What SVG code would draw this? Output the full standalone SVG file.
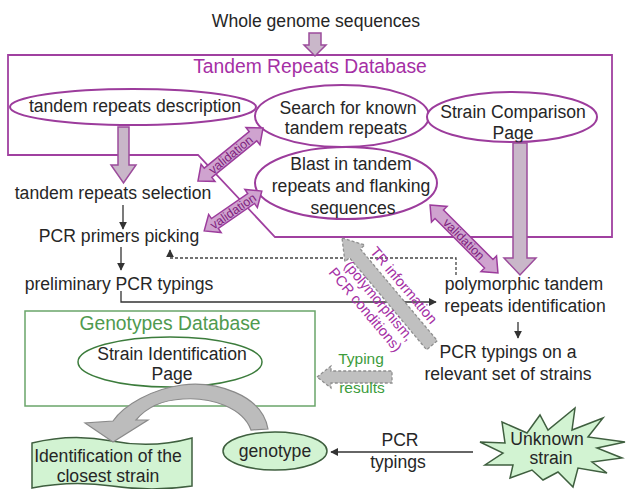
<svg xmlns="http://www.w3.org/2000/svg" width="627" height="489" viewBox="0 0 627 489">
<style>
text{font-family:"Liberation Sans",Arial,sans-serif;fill:#262626;font-size:17.6px;text-anchor:middle}
.pt{fill:#a52fa5;font-size:19.3px}
.gt{fill:#4f9a4f;font-size:19.3px}
.pe{fill:#fff;stroke:#9c3c9c;stroke-width:2}
.blk{fill:#c9b7c9;stroke:#9c4c9c;stroke-width:1.5}
.dbl{fill:#cfa3cf;stroke:#9c3c9c;stroke-width:1.5}
.vt{fill:#7e1f7e;font-size:12.5px}
.ln{fill:none;stroke:#333;stroke-width:1.3}
.dash{fill:none;stroke:#444;stroke-width:1.3;stroke-dasharray:3 2}
.gray{fill:#c0c0c0;stroke:#8f8f8f;stroke-width:1.3;stroke-dasharray:3 2}
.it{fill:#a52fa5;font-size:14.5px}
.gf{fill:#d2f3d2;stroke:#3f5f3f;stroke-width:1.5}
</style>
<defs>
<marker id="ah" viewBox="0 0 10 10" refX="9" refY="5" markerWidth="6" markerHeight="6" orient="auto"><path d="M0 0L10 5L0 10Z" fill="#333"/></marker>
</defs>

<g id="db-tandem">
<polygon points="8,55 612,55 612,237 275,237 198,155 8,155" fill="none" stroke="#a040a0" stroke-width="1.8"/>
<text class="pt" x="310" y="73">Tandem Repeats Database</text>
</g>

<g id="db-genotypes">
<rect x="25" y="311" width="290" height="95" fill="#fff" stroke="#6aa56a" stroke-width="1.5"/>
<text class="gt" x="170" y="330">Genotypes Database</text>
</g>

<g id="whole-genome"><text x="316" y="27">Whole genome sequences</text></g>

<g id="tr-description">
<ellipse class="pe" cx="133" cy="107" rx="123" ry="18"/>
<text x="135" y="112">tandem repeats description</text>
</g>

<g id="search-known">
<ellipse class="pe" cx="342" cy="116" rx="87" ry="31"/>
<text x="348" y="114">Search for known</text>
<text x="346" y="134">tandem repeats</text>
</g>

<g id="strain-comparison">
<ellipse class="pe" cx="512" cy="117" rx="85" ry="25"/>
<text x="513" y="118">Strain Comparison</text>
<text x="513" y="139">Page</text>
</g>

<g id="blast">
<ellipse class="pe" cx="346" cy="183" rx="91" ry="36"/>
<text x="351" y="170">Blast in tandem</text>
<text x="351" y="192">repeats and flanking</text>
<text x="353" y="214">sequences</text>
</g>

<g id="tr-selection"><text x="113" y="199">tandem repeats selection</text></g>
<g id="pcr-primers"><text x="119" y="242">PCR primers picking</text></g>
<g id="prelim-pcr"><text x="119" y="290">preliminary PCR typings</text></g>

<g id="polymorphic">
<text x="524" y="290">polymorphic tandem</text>
<text x="525" y="312">repeats identification</text>
</g>

<g id="pcr-relevant">
<text x="508" y="358">PCR typings on a</text>
<text x="508" y="380">relevant set of strains</text>
</g>

<g id="strain-identification">
<ellipse cx="170" cy="362" rx="92" ry="25" fill="#fff" stroke="#3c7c3c" stroke-width="1.5"/>
<text x="172" y="360">Strain Identification</text>
<text x="172" y="380">Page</text>
</g>

<g id="genotype">
<ellipse class="gf" cx="275" cy="451" rx="52" ry="19"/>
<text x="275" y="457">genotype</text>
</g>

<g id="closest-strain">
<path class="gf" d="M32 443 Q72 433 112 441 T192 438 L192 486 Q152 492 112 486 T32 488 Z"/>
<text x="108" y="462">Identification of the</text>
<text x="108" y="482">closest strain</text>
</g>

<g id="unknown-strain">
<polygon class="gf" points="480,442 505,443 502,422 527,433 540,415 548,430 575,408 572,430 603,418 588,437 625,442 597,448 622,458 592,462 607,473 578,468 573,487 558,472 543,480 532,470 510,478 513,465 485,465 503,453"/>
<text x="547" y="445">Unknown</text>
<text x="551" y="464">strain</text>
</g>

<g id="connectors">
<polygon class="blk" points="309,33 321,33 321,45 326,45 315,56 304,45 309,45"/>
<polygon class="blk" points="118,127 129,127 129,165 136,165 123.5,183 111,165 118,165"/>
<polygon class="blk" points="513,143 527,143 527,258 536,258 520,275 504,258 513,258"/>

<g transform="translate(230.5,154.5) rotate(-39.2)">
<polygon class="dbl" points="-42,0 -29,-11 -29,-6 29,-6 29,-11 42,0 29,11 29,6 -29,6 -29,11"/>
<text class="vt" x="0" y="4.5">validation</text>
</g>
<g transform="translate(233,211) rotate(-34.6)">
<polygon class="dbl" points="-35,0 -22,-11 -22,-6 22,-6 22,-11 35,0 22,11 22,6 -22,6 -22,11"/>
<text class="vt" x="0" y="4.5">validation</text>
</g>
<g transform="translate(464,239) rotate(45)">
<polygon class="dbl" points="-48,0 -35,-11 -35,-6 35,-6 35,-11 48,0 35,11 35,6 -35,6 -35,11"/>
<text class="vt" x="0" y="4.5">validation</text>
</g>

<line class="ln" x1="123" y1="205" x2="123" y2="229" marker-end="url(#ah)"/>
<line class="ln" x1="121" y1="247" x2="121" y2="270" marker-end="url(#ah)"/>
<polyline class="ln" points="121,291 121,302 436,302" marker-end="url(#ah)"/>
<polyline class="dash" points="456,275 456,258 170,258 170,250" marker-end="url(#ah)"/>
<line class="ln" x1="518" y1="322" x2="518" y2="338" marker-end="url(#ah)"/>
<line class="ln" x1="473" y1="452" x2="331" y2="452" marker-end="url(#ah)"/>
<text x="400" y="446">PCR</text>
<text x="398" y="468">typings</text>

<g transform="translate(342,238) rotate(50)">
<polygon class="gray" points="0,0 20,-13 20,-7 140,-7 140,7 20,7 20,13"/>
<text class="it" x="76" y="-12">TR information</text>
<text class="it" x="72" y="17">(polymorphism,</text>
<text class="it" x="70" y="33">PCR conditions)</text>
</g>

<polygon class="gray" points="317,377 331,366 331,371 392,371 392,383 331,383 331,388"/>
<text x="361" y="364" style="fill:#3c9c3c;font-size:15.5px">Typing</text>
<text x="362" y="393" style="fill:#3c9c3c;font-size:15.5px">results</text>

<path d="M268 429 C262 394 215 381 182 385 C152 389 124 405 113 421 L85 423 L113 442 L148 420 L136 420 C146 408 162 400 183 399 C212 397 243 408 251 430 Z" fill="#bcbcbc" stroke="#8a8a8a" stroke-width="1.2"/>
</g>
</svg>
